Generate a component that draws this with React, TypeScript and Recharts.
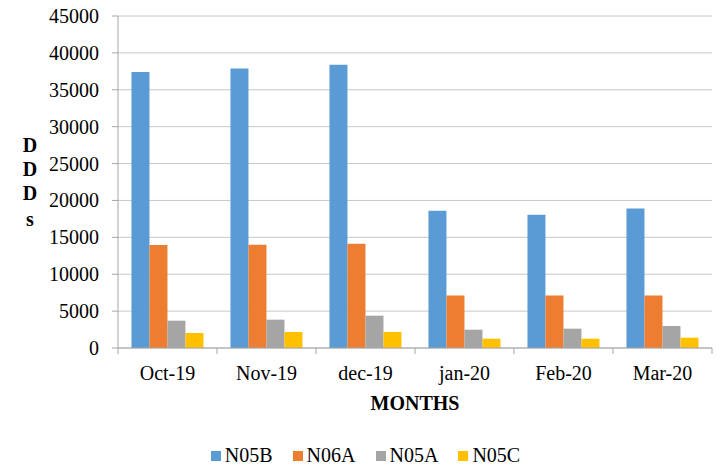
import React from 'react';
import { BarChart, Bar, XAxis, YAxis, CartesianGrid, Legend } from 'recharts';

const months = ['Oct-19', 'Nov-19', 'dec-19', 'jan-20', 'Feb-20', 'Mar-20'];
const n05b = [37400, 37900, 38400, 18600, 18070, 18920];
const n06a = [13960, 14000, 14140, 7100, 7100, 7100];
const n05a = [3700, 3840, 4380, 2480, 2620, 2980];
const n05c = [2030, 2170, 2170, 1260, 1260, 1400];
const yTicks = [0, 5000, 10000, 15000, 20000, 25000, 30000, 35000, 40000, 45000];

const seriesNames = ['N05B', 'N06A', 'N05A', 'N05C'];
const seriesColors = ['#5b9bd5', '#ed7d31', '#a5a5a5', '#ffc000'];

const data = months.map((m, i) => ({
  month: m,
  N05B: n05b[i],
  N06A: n06a[i],
  N05A: n05a[i],
  N05C: n05c[i],
}));

const W = 723;
const H = 471;
const MARGIN = { top: 16, right: 11, bottom: 53, left: 0 };
const Y_W = 118;
const PLOT_W = W - MARGIN.left - MARGIN.right - Y_W;
const FONT = 'Liberation Serif, Times New Roman, serif';
const AXIS_COLOR = '#a6a6a6';
const GRID_COLOR = '#c8c8c8';

const XTick = (props: any) => {
  const { x, y, payload, index } = props;
  const half = PLOT_W / months.length / 2;
  return (
    <g>
      <line x1={x - half} y1={y} x2={x - half} y2={y + 6} stroke={AXIS_COLOR} />
      {index === months.length - 1 && (
        <line x1={x + half} y1={y} x2={x + half} y2={y + 6} stroke={AXIS_COLOR} />
      )}
      <text x={x} y={y + 32} textAnchor="middle" style={{ fontFamily: FONT, fontSize: 20 }} fill="#000">
        {payload.value}
      </text>
    </g>
  );
};

const YTick = (props: any) => {
  const { x, y, payload } = props;
  return (
    <text x={x} y={y + 7} textAnchor="end" style={{ fontFamily: FONT, fontSize: 20 }} fill="#000">
      {payload.value}
    </text>
  );
};

const YLabel = (props: any) => {
  const vb = props.viewBox || { x: 0, y: 16, width: 118, height: 332 };
  const letters = ['D', 'D', 'D', 's'];
  const cx = vb.x + 30;
  const startY = vb.y + vb.height / 2 - 30;
  return (
    <text x={cx} textAnchor="middle" style={{ fontFamily: FONT, fontSize: 20, fontWeight: 'bold' }} fill="#000">
      {letters.map((l, i) => (
        <tspan key={i} x={cx} y={startY + i * 24 + (i === 3 ? 2 : 0)}>
          {l}
        </tspan>
      ))}
    </text>
  );
};

const LegendContent = () => (
  <div
    style={{
      display: 'flex',
      justifyContent: 'center',
      gap: 20,
      fontFamily: FONT,
      fontSize: 20,
      color: '#000',
      paddingLeft: 8,
    }}
  >
    {seriesNames.map((n, i) => (
      <div key={n} style={{ display: 'flex', alignItems: 'center', fontFamily: FONT }}>
        <span
          style={{
            display: 'inline-block',
            width: 10,
            height: 10,
            background: seriesColors[i],
            marginRight: 4,
          }}
        />
        <span style={{ fontFamily: FONT }}>{n}</span>
      </div>
    ))}
  </div>
);

export default function App() {
  return (
    <div style={{ position: 'absolute', left: 0, top: 0, width: W, height: H, background: '#fff', fontFamily: FONT }}>
      <BarChart width={W} height={H} data={data} margin={MARGIN} barCategoryGap="13.6%" barGap={0}>
        <CartesianGrid horizontal vertical={false} stroke={GRID_COLOR} />
        <XAxis
          dataKey="month"
          height={70}
          tickSize={0}
          tickMargin={0}
          tickLine={false}
          axisLine={{ stroke: AXIS_COLOR }}
          tick={<XTick />}
          interval={0}
          label={{
            value: 'MONTHS',
            position: 'insideBottom',
            offset: 8,
            style: { fontFamily: FONT, fontSize: 20, fontWeight: 'bold', fill: '#000' },
          }}
        />
        <YAxis
          width={Y_W}
          domain={[0, 45000]}
          ticks={yTicks}
          interval={0}
          tickSize={6}
          tickMargin={13}
          tickLine={{ stroke: AXIS_COLOR }}
          axisLine={{ stroke: AXIS_COLOR }}
          tick={<YTick />}
          label={<YLabel />}
        />
        <Legend
          layout="horizontal"
          verticalAlign="middle"
          align="center"
          content={<LegendContent />}
          wrapperStyle={{ position: 'absolute', top: 444, left: 0, width: W }}
        />
        {seriesNames.map((n, i) => (
          <Bar key={n} dataKey={n} fill={seriesColors[i]} isAnimationActive={false} />
        ))}
      </BarChart>
    </div>
  );
}
